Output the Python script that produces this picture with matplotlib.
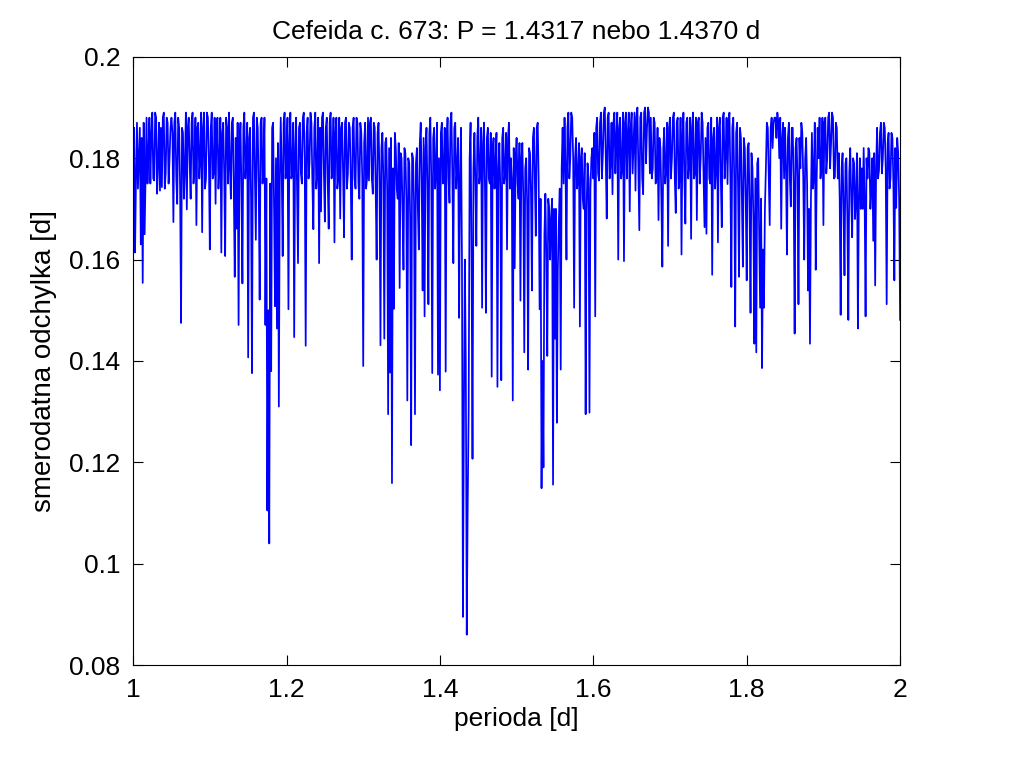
import numpy as np
import matplotlib
matplotlib.use('Agg')
import matplotlib.pyplot as plt

# trial periods: 1.0 .. 2.0 d, step 0.0025
period_start = 1.0
period_step = 0.0025

# standard deviation, 10 values per row
sigma = [
    0.178, 0.1614, 0.187, 0.180, 0.163, 0.1554, 0.165, 0.188, 0.181, 0.175,
    0.189, 0.1756, 0.188, 0.179, 0.1736, 0.1743, 0.189, 0.177, 0.187, 0.180,
    0.188, 0.1674, 0.189, 0.171, 0.186, 0.1475, 0.185, 0.178, 0.1699, 0.188,
    0.172, 0.189, 0.179, 0.1668, 0.187, 0.180, 0.1654, 0.189, 0.176, 0.188,
    0.162, 0.189, 0.177, 0.171, 0.188, 0.179, 0.1614, 0.187, 0.1607, 0.186,
    0.189, 0.172, 0.188, 0.1566, 0.1661, 0.1471, 0.187, 0.1553, 0.189, 0.180,
    0.1407, 0.186, 0.1376, 0.189, 0.1639, 0.186, 0.1521, 0.188, 0.179, 0.1471,
    0.1105, 0.104, 0.138, 0.187, 0.1508, 0.1464, 0.131, 0.188, 0.1607, 0.189,
    0.180, 0.1502, 0.189, 0.177, 0.1447, 0.188, 0.1593, 0.187, 0.175, 0.189,
    0.143, 0.188, 0.179, 0.187, 0.166, 0.189, 0.177, 0.1593, 0.1695, 0.189,
    0.1675, 0.188, 0.1661, 0.189, 0.178, 0.1634, 0.188, 0.176, 0.1681, 0.187,
    0.1644, 0.188, 0.177, 0.186, 0.1600, 0.188, 0.174, 0.187, 0.172, 0.185,
    0.139, 0.187, 0.176, 0.1756, 0.188, 0.173, 0.186, 0.160, 0.187, 0.1431,
    0.185, 0.1444, 0.184, 0.1295, 0.1377, 0.1159, 0.1503, 0.182, 0.172, 0.1544,
    0.180, 0.158, 0.181, 0.1322, 0.179, 0.1234, 0.180, 0.1295, 0.182, 0.162,
    0.187, 0.1539, 0.1488, 0.186, 0.1512, 0.188, 0.1376, 0.186, 0.178, 0.1373,
    0.1342, 0.187, 0.176, 0.1379, 0.188, 0.1712, 0.189, 0.1593, 0.187, 0.178,
    0.1485, 0.186, 0.0895, 0.160, 0.086, 0.1303, 0.187, 0.1207, 0.185, 0.1627,
    0.188, 0.177, 0.1505, 0.187, 0.1495, 0.186, 0.175, 0.1369, 0.184, 0.179,
    0.1349, 0.183, 0.1362, 0.186, 0.177, 0.162, 0.187, 0.180, 0.1322, 0.1583,
    0.184, 0.172, 0.1519, 0.183, 0.1417, 0.180, 0.1383, 0.181, 0.1539, 0.186,
    0.1647, 0.187, 0.1502, 0.1149, 0.119, 0.173, 0.141, 0.170, 0.168, 0.1156,
    0.1444, 0.1278, 0.167, 0.1383, 0.186, 0.188, 0.160, 0.189, 0.180, 0.188,
    0.1505, 0.184, 0.176, 0.1468, 0.182, 0.170, 0.1295, 0.179, 0.1298, 0.180,
    0.176, 0.1488, 0.188, 0.1756, 0.189, 0.181, 0.190, 0.1681, 0.189, 0.179,
    0.1729, 0.189, 0.184, 0.160, 0.188, 0.178, 0.1597, 0.189, 0.185, 0.1695,
    0.189, 0.183, 0.1736, 0.190, 0.1658, 0.189, 0.1729, 0.190, 0.186, 0.189,
    0.188, 0.178, 0.187, 0.176, 0.1678, 0.182, 0.1586, 0.186, 0.178, 0.1627,
    0.188, 0.180, 0.189, 0.1692, 0.188, 0.176, 0.161, 0.189, 0.1671, 0.188,
    0.179, 0.1641, 0.189, 0.177, 0.1678, 0.188, 0.180, 0.187, 0.1664, 0.1651,
    0.187, 0.175, 0.157, 0.186, 0.178, 0.1634, 0.188, 0.1664, 0.189, 0.181,
    0.1749, 0.189, 0.1546, 0.188, 0.1468, 0.187, 0.1566, 0.184, 0.1586, 0.182,
    0.1559, 0.183, 0.1495, 0.178, 0.1434, 0.1417, 0.180, 0.1505, 0.1386, 0.1505,
    0.178, 0.186, 0.1668, 0.188, 0.187, 0.188, 0.189, 0.180, 0.1661, 0.187,
    0.186, 0.161, 0.187, 0.1705, 0.186, 0.1454, 0.184, 0.1512, 0.178, 0.185,
    0.160, 0.184, 0.1539, 0.1434, 0.185, 0.176, 0.158, 0.186, 0.188, 0.179,
    0.1668, 0.188, 0.180, 0.189, 0.183, 0.188, 0.1763, 0.186, 0.181, 0.1491,
    0.181, 0.1569, 0.180, 0.1481, 0.182, 0.1644, 0.179, 0.172, 0.1464, 0.180,
    0.178, 0.182, 0.1488, 0.176, 0.181, 0.174, 0.1637, 0.1549, 0.186, 0.1776,
    0.187, 0.180, 0.186, 0.1512, 0.185, 0.176, 0.184, 0.1559, 0.1702, 0.181,
    0.1481,
]

# values read half a step later (between the points above)
sigma_mid = [
    0.186, 0.176, 0.174, 0.186, 0.184, 0.187, 0.177, 0.175, 0.188, 0.185,
    0.176, 0.189, 0.173, 0.187, 0.186, 0.188, 0.174, 0.188, 0.175, 0.186,
    0.185, 0.187, 0.176, 0.188, 0.174, 0.186, 0.172, 0.189, 0.186, 0.179,
    0.187, 0.175, 0.188, 0.186, 0.176, 0.189, 0.186, 0.174, 0.189, 0.180,
    0.186, 0.176, 0.188, 0.187, 0.174, 0.188, 0.185, 0.177, 0.188, 0.175,
    0.178, 0.187, 0.174, 0.184, 0.187, 0.183, 0.173, 0.186, 0.176, 0.187,
    0.184, 0.172, 0.188, 0.176, 0.188, 0.174, 0.187, 0.175, 0.188, 0.176,
    0.150, 0.175, 0.186, 0.170, 0.180, 0.183, 0.176, 0.177, 0.187, 0.176,
    0.188, 0.183, 0.176, 0.187, 0.182, 0.174, 0.186, 0.177, 0.188, 0.180,
    0.185, 0.176, 0.189, 0.175, 0.186, 0.174, 0.188, 0.186, 0.188, 0.177,
    0.186, 0.175, 0.187, 0.176, 0.188, 0.185, 0.174, 0.188, 0.186, 0.177,
    0.187, 0.174, 0.187, 0.176, 0.186, 0.176, 0.188, 0.175, 0.187, 0.176,
    0.183, 0.174, 0.188, 0.187, 0.176, 0.187, 0.174, 0.185, 0.176, 0.182,
    0.176, 0.183, 0.174, 0.182, 0.184, 0.178, 0.185, 0.174, 0.183, 0.181,
    0.170, 0.182, 0.172, 0.180, 0.168, 0.181, 0.171, 0.179, 0.170, 0.183,
    0.175, 0.184, 0.182, 0.174, 0.185, 0.176, 0.184, 0.174, 0.187, 0.180,
    0.185, 0.175, 0.186, 0.184, 0.176, 0.187, 0.176, 0.186, 0.174, 0.184,
    0.176, 0.160, 0.128, 0.140, 0.112, 0.180, 0.160, 0.178, 0.175, 0.184,
    0.175, 0.186, 0.183, 0.174, 0.184, 0.176, 0.185, 0.182, 0.174, 0.185,
    0.178, 0.174, 0.184, 0.175, 0.185, 0.184, 0.174, 0.176, 0.182, 0.180,
    0.175, 0.183, 0.180, 0.172, 0.178, 0.171, 0.182, 0.173, 0.184, 0.176,
    0.186, 0.176, 0.172, 0.140, 0.165, 0.160, 0.172, 0.160, 0.172, 0.170,
    0.170, 0.158, 0.174, 0.178, 0.175, 0.178, 0.186, 0.176, 0.189, 0.180,
    0.180, 0.174, 0.183, 0.180, 0.172, 0.181, 0.170, 0.176, 0.174, 0.182,
    0.185, 0.186, 0.177, 0.187, 0.176, 0.189, 0.180, 0.188, 0.176, 0.187,
    0.187, 0.177, 0.189, 0.186, 0.176, 0.189, 0.187, 0.176, 0.189, 0.186,
    0.177, 0.189, 0.188, 0.178, 0.188, 0.176, 0.189, 0.179, 0.190, 0.177,
    0.176, 0.188, 0.175, 0.186, 0.184, 0.172, 0.182, 0.175, 0.187, 0.186,
    0.176, 0.188, 0.176, 0.187, 0.174, 0.188, 0.184, 0.176, 0.187, 0.176,
    0.188, 0.186, 0.176, 0.188, 0.187, 0.175, 0.189, 0.177, 0.184, 0.186,
    0.176, 0.188, 0.184, 0.174, 0.188, 0.186, 0.176, 0.188, 0.176, 0.188,
    0.187, 0.176, 0.186, 0.176, 0.185, 0.174, 0.186, 0.172, 0.184, 0.172,
    0.182, 0.170, 0.181, 0.168, 0.176, 0.179, 0.166, 0.172, 0.162, 0.170,
    0.187, 0.176, 0.186, 0.182, 0.188, 0.184, 0.187, 0.188, 0.184, 0.176,
    0.178, 0.184, 0.176, 0.186, 0.175, 0.182, 0.176, 0.184, 0.187, 0.176,
    0.180, 0.175, 0.170, 0.172, 0.174, 0.187, 0.176, 0.180, 0.176, 0.188,
    0.187, 0.177, 0.188, 0.178, 0.189, 0.176, 0.187, 0.176, 0.172, 0.178,
    0.170, 0.179, 0.168, 0.177, 0.172, 0.180, 0.168, 0.181, 0.172, 0.170,
    0.170, 0.172, 0.180, 0.182, 0.170, 0.180, 0.181, 0.178, 0.176, 0.185,
    0.177, 0.187, 0.178, 0.183, 0.174, 0.185, 0.175, 0.182, 0.184, 0.172,
]

# put both readings on one period axis
n = len(sigma)
p_main = period_start + period_step * np.arange(n)
p_mid = period_start + period_step * (np.arange(len(sigma_mid)) + 0.5)
period = np.concatenate([p_main, p_mid])
values = np.concatenate([sigma, sigma_mid])
order = np.argsort(period)
period = period[order]
values = values[order]

plt.rcParams['font.family'] = ['Liberation Sans', 'DejaVu Sans']

fig = plt.figure(figsize=(10.24, 7.68), dpi=100)
ax = fig.add_axes([0.130, 0.134, 0.749, 0.792])

ax.plot(period, values, color='#0000ff', linewidth=1.25)

ax.set_xlim(1, 2)
ax.set_ylim(0.08, 0.2)
ax.set_xticks([1, 1.2, 1.4, 1.6, 1.8, 2])
ax.set_xticklabels(['1', '1.2', '1.4', '1.6', '1.8', '2'])
ax.set_yticks([0.08, 0.1, 0.12, 0.14, 0.16, 0.18, 0.2])
ax.set_yticklabels(['0.08', '0.1', '0.12', '0.14', '0.16', '0.18', '0.2'])
ax.tick_params(direction='in', length=7, width=0.8, top=True, right=True,
               labelsize=19, pad=9)
for s in ax.spines.values():
    s.set_linewidth(0.8)

ax.set_title('Cefeida c. 673: P = 1.4317 nebo 1.4370 d', fontsize=19, pad=13)
ax.set_xlabel('perioda [d]', fontsize=19, labelpad=4)
ax.set_ylabel('smerodatna odchylka [d]', fontsize=20)
ax.yaxis.set_label_coords(-0.099, 0.5)

fig.savefig('out.png', dpi=100, facecolor='white')
